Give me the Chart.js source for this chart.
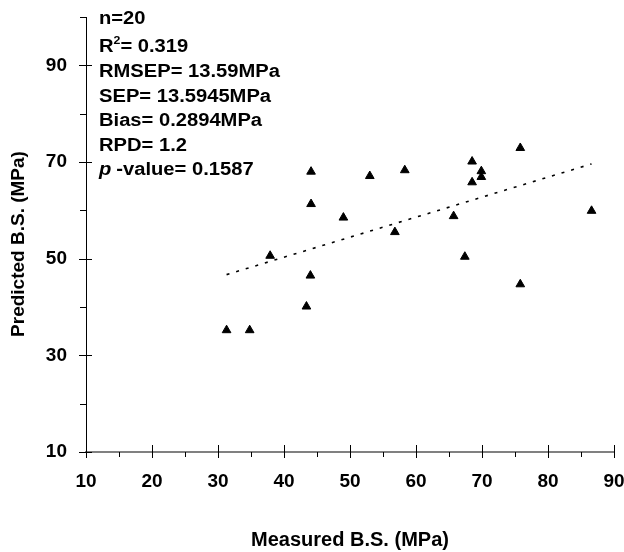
<!DOCTYPE html>
<html>
<head>
<meta charset="utf-8">
<script src="https://cdn.jsdelivr.net/npm/chart.js@4.4.1/dist/chart.umd.min.js"></script>
<style>
  html, body { margin: 0; padding: 0; background: #fff; }
  #wrap { width: 624px; height: 552px; }
</style>
</head>
<body>
<div id="wrap"><canvas id="chart" width="624" height="552"></canvas></div>
<script>
  // values
  const measured = [31.3, 34.8, 37.9, 43.4, 44.0, 44.1, 44.1, 49.0, 53.0, 56.8,
                    58.3, 65.7, 67.4, 68.5, 68.5, 69.9, 69.9, 75.8, 75.8, 86.6];
  const predicted = [35.2, 35.2, 50.6, 40.1, 46.5, 61.3, 68.0, 58.5, 67.1, 55.5,
                     68.3, 58.8, 50.4, 70.1, 65.8, 68.1, 66.9, 72.9, 44.7, 59.9];
  const fitX = [31.3, 86.6];
  const fitY = [46.7, 69.6];
  const yTickLabels = [10, 30, 50, 70, 90];
  const xTitle = 'Measured B.S. (MPa)';
  const yTitle = 'Predicted B.S. (MPa)';
  const stats = {
    n: 'n=20',
    r2: '= 0.319',
    rmsep: 'RMSEP= 13.59MPa',
    sep: 'SEP= 13.5945MPa',
    bias: 'Bias= 0.2894MPa',
    rpd: 'RPD= 1.2',
    p: '-value= 0.1587'
  };

  const FONT = '"Liberation Sans", Arial, sans-serif';
  const pad = { left: 0, top: 17, right: 10, bottom: 0 };

  // tick marks like the original: major ones cross the axis, minor ones only outside
  const tickMarks = {
    id: 'tickMarks',
    afterDraw(chart) {
      const { ctx, chartArea: a, scales: { x, y } } = chart;
      ctx.save();
      ctx.strokeStyle = '#000';
      ctx.lineWidth = 1;
      ctx.beginPath();
      for (let v = 10; v <= 90; v += 5) {
        const px = Math.round(x.getPixelForValue(v)) + 0.5;
        if (v % 10 === 0) { ctx.moveTo(px, a.bottom - 7); ctx.lineTo(px, a.bottom + 6); }
        else { ctx.moveTo(px, a.bottom); ctx.lineTo(px, a.bottom + 5); }
      }
      for (let v = 10; v <= 100; v += 10) {
        const py = Math.round(y.getPixelForValue(v)) + 0.5;
        if ((v - 10) % 20 === 0) { ctx.moveTo(a.left - 7, py); ctx.lineTo(a.left + 6, py); }
        else { ctx.moveTo(a.left - 6, py); ctx.lineTo(a.left, py); }
      }
      ctx.stroke();
      ctx.restore();
    }
  };

  // y title sits a little below the middle of the axis in the original
  const yTitleText = {
    id: 'yTitleText',
    afterDraw(chart) {
      const { ctx } = chart;
      ctx.save();
      ctx.translate(19, 244);
      ctx.rotate(-Math.PI / 2);
      ctx.font = 'bold 19px ' + FONT;
      ctx.fillStyle = '#000';
      ctx.textAlign = 'center';
      ctx.textBaseline = 'middle';
      ctx.fillText(yTitle, 0, 0);
      ctx.restore();
    }
  };

  // statistics block in the top-left corner
  const statsText = {
    id: 'statsText',
    afterDraw(chart) {
      const { ctx } = chart;
      const x0 = 99;
      const sx = 1.12;
      const big = 'bold 18px ' + FONT;
      const put = (txt, x, y, font) => {
        ctx.save();
        ctx.font = font;
        ctx.translate(x, y);
        ctx.scale(sx, 1);
        ctx.fillText(txt, 0, 0);
        const w = ctx.measureText(txt).width * sx;
        ctx.restore();
        return w;
      };
      ctx.save();
      ctx.fillStyle = '#000';
      ctx.textBaseline = 'alphabetic';
      put(stats.n, x0, 24, big);
      let w = put('R', x0, 52, big);
      w += put('2', x0 + w, 44, 'bold 11px ' + FONT);
      put(stats.r2, x0 + w, 52, big);
      put(stats.rmsep, x0, 77, big);
      put(stats.sep, x0, 101.5, big);
      put(stats.bias, x0, 126, big);
      put(stats.rpd, x0, 150.5, big);
      w = put('p', x0, 175, 'italic bold 18px ' + FONT);
      put(stats.p, x0 + w + 5, 175, big);
      ctx.restore();
    }
  };

  const tickFont = { family: FONT, size: 19, weight: 'bold' };

  new Chart(document.getElementById('chart'), {
    type: 'scatter',
    data: {
      datasets: [
        {
          label: 'fit',
          data: fitX.map((v, i) => ({ x: v, y: fitY[i] })),
          showLine: true,
          borderColor: '#000',
          borderWidth: 1.6,
          borderDash: [3, 7],
          pointRadius: 0,
          order: 2
        },
        {
          label: 'samples',
          data: measured.map((v, i) => ({ x: v, y: predicted[i] })),
          pointStyle: 'triangle',
          pointRadius: 5,
          backgroundColor: '#000',
          borderColor: '#000',
          borderWidth: 1,
          order: 1
        }
      ]
    },
    options: {
      responsive: false,
      animation: false,
      devicePixelRatio: 1,
      layout: { padding: pad },
      plugins: { legend: { display: false }, tooltip: { enabled: false } },
      scales: {
        x: {
          type: 'linear',
          min: 10, max: 90,
          ticks: { stepSize: 10, color: '#000', font: tickFont, padding: 18, maxRotation: 0 },
          grid: { display: false, drawTicks: false },
          border: { display: true, color: '#808080', width: 2 },
          title: { display: true, text: xTitle, color: '#000',
                   font: { family: FONT, size: 20, weight: 'bold' },
                   padding: { top: 0, bottom: 0 } },
          afterFit(s) { s.height = 100; s.paddingLeft = 0; s.paddingRight = 0; }
        },
        y: {
          type: 'linear',
          min: 10, max: 100,
          ticks: {
            stepSize: 10, color: '#000', font: tickFont, padding: 19,
            callback: (v) => (yTickLabels.includes(v) ? v : '')
          },
          grid: { display: false, drawTicks: false },
          border: { display: true, color: '#000', width: 1 },
          title: { display: false },
          afterFit(s) { s.width = 86; s.paddingTop = 0; s.paddingBottom = 0; }
        }
      }
    },
    plugins: [tickMarks, yTitleText, statsText]
  });
</script>
</body>
</html>
